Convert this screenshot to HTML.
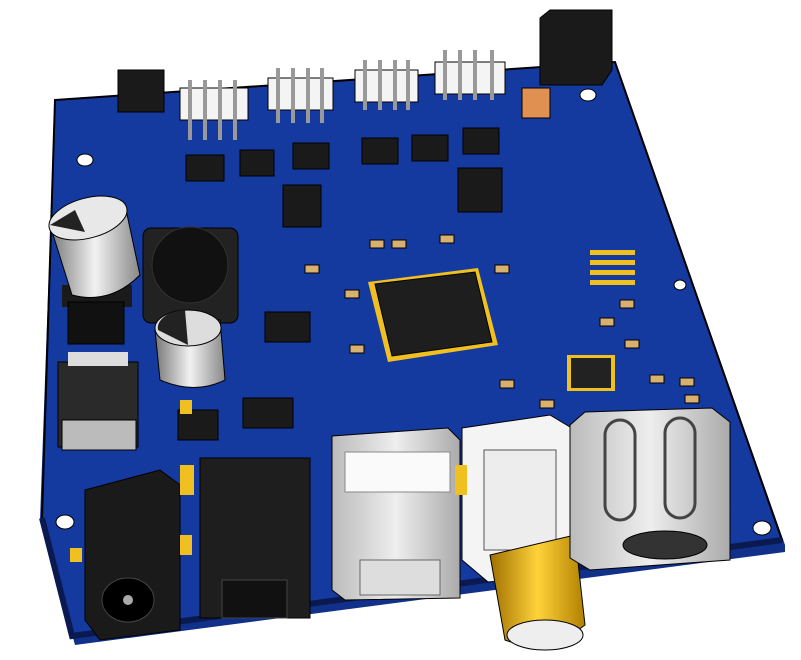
<!DOCTYPE html>
<html><head><meta charset="utf-8"><style>html,body{margin:0;padding:0;background:#fff}svg{display:block}</style></head>
<body>
<svg width="801" height="660" viewBox="0 0 801 660" xmlns="http://www.w3.org/2000/svg">
<defs>
<linearGradient id="cap" x1="0" x2="1"><stop offset="0" stop-color="#777"/><stop offset="0.5" stop-color="#f2f2f2"/><stop offset="1" stop-color="#888"/></linearGradient>
<linearGradient id="gold" x1="0" x2="1"><stop offset="0" stop-color="#a07000"/><stop offset="0.5" stop-color="#ffd23a"/><stop offset="1" stop-color="#b08000"/></linearGradient>
<linearGradient id="silv" x1="0" x2="1"><stop offset="0" stop-color="#bbb"/><stop offset="0.5" stop-color="#eee"/><stop offset="1" stop-color="#aaa"/></linearGradient>
</defs>
<!-- board -->
<polygon points="55,100 615,62 785,545 785,552 75,645 40,520" fill="#10308a"/>
<polygon points="55,100 615,62 782,540 72,636 42,518" fill="#14399f" stroke="#000" stroke-width="2"/>
<polyline points="42,518 72,636 782,540" fill="none" stroke="#0a1a50" stroke-width="6"/>
<!-- holes -->
<g fill="#fff" stroke="#000"><ellipse cx="85" cy="160" rx="8" ry="6"/><ellipse cx="588" cy="95" rx="8" ry="6"/><ellipse cx="65" cy="522" rx="9" ry="7"/><ellipse cx="762" cy="528" rx="9" ry="7"/><ellipse cx="680" cy="285" rx="6" ry="5"/><ellipse cx="520" cy="500" rx="6" ry="5"/></g>
<!-- top black parts -->
<polygon points="540,18 550,10 612,10 612,70 602,85 540,85" fill="#1a1a1a" stroke="#000"/>
<rect x="522" y="88" width="28" height="30" fill="#e09050" stroke="#000"/>
<rect x="118" y="70" width="46" height="42" fill="#1a1a1a" stroke="#000"/>
<!-- headers -->
<g fill="#f4f4f4" stroke="#000">
<rect x="180" y="88" width="68" height="32"/><rect x="268" y="78" width="65" height="32"/><rect x="355" y="70" width="63" height="32"/><rect x="435" y="62" width="70" height="32"/>
</g>
<g stroke="#999" stroke-width="4">
<path d="M190 80v60M205 80v60M220 80v60M235 80v60M278 68v55M293 68v55M308 68v55M322 68v55M365 60v50M380 60v50M395 60v50M408 60v50M445 50v50M460 50v50M475 50v50M492 50v50"/>
</g>
<!-- small ICs -->
<g fill="#1a1a1a" stroke="#000">
<rect x="186" y="155" width="38" height="26"/><rect x="240" y="150" width="34" height="26"/><rect x="293" y="143" width="36" height="26"/><rect x="362" y="138" width="36" height="26"/><rect x="412" y="135" width="36" height="26"/><rect x="463" y="128" width="36" height="26"/>
<rect x="283" y="185" width="38" height="42"/><rect x="458" y="168" width="44" height="44"/>
<rect x="265" y="312" width="45" height="30"/><rect x="243" y="398" width="50" height="30"/><rect x="178" y="410" width="40" height="30"/>
</g>
<!-- QFP -->
<polygon points="368,282 478,268 498,345 388,362" fill="#f0c020"/>
<polygon points="375,284 475,272 492,342 392,356" fill="#1e1e1e" stroke="#000"/>
<rect x="567" y="355" width="48" height="36" fill="#f0c020"/><rect x="571" y="358" width="40" height="30" fill="#222"/>
<!-- passives -->
<g fill="#d8b070" stroke="#000">
<rect x="370" y="240" width="14" height="8"/><rect x="392" y="240" width="14" height="8"/><rect x="440" y="235" width="14" height="8"/><rect x="305" y="265" width="14" height="8"/><rect x="345" y="290" width="14" height="8"/><rect x="495" y="265" width="14" height="8"/><rect x="600" y="318" width="14" height="8"/><rect x="625" y="340" width="14" height="8"/><rect x="650" y="375" width="14" height="8"/><rect x="680" y="378" width="14" height="8"/><rect x="685" y="395" width="14" height="8"/><rect x="500" y="380" width="14" height="8"/><rect x="540" y="400" width="14" height="8"/><rect x="350" y="345" width="14" height="8"/><rect x="620" y="300" width="14" height="8"/>
</g>
<g fill="#f0c020"><rect x="590" y="250" width="45" height="5"/><rect x="590" y="260" width="45" height="5"/><rect x="590" y="270" width="45" height="5"/><rect x="590" y="280" width="45" height="5"/></g>
<!-- big cap -->
<rect x="62" y="285" width="70" height="22" fill="#1a1a1a"/>
<path d="M50 225 L125 205 L140 275 Q110 305 72 295 Z" fill="url(#cap)" stroke="#000"/>
<ellipse cx="88" cy="218" rx="40" ry="20" transform="rotate(-15 88 218)" fill="#e8e8e8" stroke="#000"/>
<path d="M50 225 L75 210 L85 232 Z" fill="#222"/>
<!-- inductor -->
<rect x="143" y="228" width="95" height="95" rx="8" fill="#222" stroke="#000"/>
<circle cx="190" cy="265" r="38" fill="#111" stroke="#333"/>
<!-- small cap -->
<path d="M155 330 L220 320 L225 380 Q195 395 160 380 Z" fill="url(#cap)" stroke="#000"/>
<ellipse cx="188" cy="328" rx="33" ry="18" fill="#ddd" stroke="#000"/>
<path d="M158 330 A30 18 0 0 1 185 310 L188 345 Z" fill="#222"/>
<!-- left parts -->
<rect x="68" y="302" width="56" height="42" fill="#111" stroke="#000"/>
<rect x="58" y="362" width="80" height="85" fill="#2a2a2a" stroke="#000"/>
<rect x="62" y="420" width="74" height="30" fill="#bbb" stroke="#000"/>
<rect x="68" y="352" width="60" height="14" fill="#ddd"/>
<!-- DC jack -->
<polygon points="85,490 160,470 180,485 180,630 100,640 85,620" fill="#1a1a1a" stroke="#000"/>
<ellipse cx="128" cy="600" rx="26" ry="22" fill="#000" stroke="#444"/>
<circle cx="128" cy="600" r="5" fill="#aaa"/>
<!-- optical -->
<rect x="200" y="458" width="110" height="160" fill="#1e1e1e" stroke="#000"/>
<rect x="222" y="580" width="65" height="38" fill="#111" stroke="#444"/>
<!-- USB -->
<polygon points="332,436 448,428 460,440 460,598 345,600 332,590" fill="url(#silv)" stroke="#000"/>
<rect x="345" y="452" width="105" height="40" fill="#fafafa" stroke="#888"/>
<rect x="360" y="560" width="80" height="35" fill="#ddd" stroke="#666"/>
<!-- RCA -->
<polygon points="462,428 550,415 575,430 575,575 488,582 462,560" fill="#f4f4f4" stroke="#000"/>
<rect x="484" y="450" width="72" height="100" fill="#ededed" stroke="#555"/>
<path d="M490 555 L575 535 L585 625 Q545 655 505 640 Z" fill="url(#gold)" stroke="#000"/>
<ellipse cx="545" cy="635" rx="38" ry="15" fill="#eee" stroke="#000"/>
<!-- S-video -->
<polygon points="570,425 585,412 712,408 730,422 730,560 590,570 570,558" fill="url(#silv)" stroke="#000"/>
<rect x="605" y="420" width="30" height="100" rx="15" fill="none" stroke="#444" stroke-width="3"/>
<rect x="665" y="418" width="30" height="100" rx="15" fill="none" stroke="#444" stroke-width="3"/>
<ellipse cx="665" cy="545" rx="42" ry="14" fill="#333" stroke="#000"/>
<!-- yellow pads -->
<g fill="#f0c020"><rect x="70" y="548" width="12" height="14"/><rect x="180" y="465" width="14" height="30"/><rect x="180" y="535" width="12" height="20"/><rect x="455" y="465" width="12" height="30"/><rect x="180" y="400" width="12" height="14"/></g>
</svg>
</body></html>
